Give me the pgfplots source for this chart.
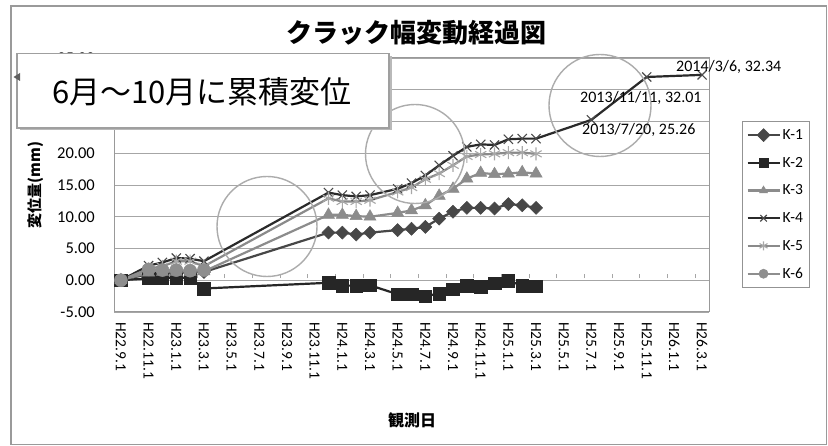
\documentclass[border=0pt]{standalone}
\usepackage{fontspec}
\usepackage{pgfplots}
\usepackage{pgfplotstable}
\pgfplotsset{compat=1.18}
\setmainfont{Carlito}
\newfontfamily\jp{Noto Sans CJK JP}
\definecolor{cK1}{HTML}{474747}
\definecolor{cK2}{HTML}{262626}
\definecolor{cK3}{HTML}{8C8C8C}
\definecolor{cK4}{HTML}{2A2A2A}
\definecolor{cK4m}{HTML}{4A4A4A}
\definecolor{cK5}{HTML}{8A8A8A}
\definecolor{cK5m}{HTML}{A8A8A8}
\definecolor{cK6}{HTML}{8E8E8E}
\definecolor{gridc}{HTML}{A6A6A6}
\definecolor{framec}{HTML}{9A9A9A}

\pgfplotstableread{
m v
0 0
2 1.0
3 1.1
4 1.2
5 1.2
6 1.3
15 7.5
16 7.5
17 7.2
18 7.5
20 7.9
21 8.1
22 8.4
23 9.7
24 10.8
25 11.4
26 11.4
27 11.3
28 12.0
29 11.8
30 11.4
}\Kone
\pgfplotstableread{
m v
0 0
2 0.3
3 0.3
4 0.4
5 0.4
6 -1.3
15 -0.4
16 -0.85
17 -0.85
18 -0.8
20 -2.2
21 -2.2
22 -2.5
23 -2.1
24 -1.4
25 -0.85
26 -1.0
27 -0.5
28 -0.05
29 -0.85
30 -0.95
}\Ktwo
\pgfplotstableread{
m v
0 0
2 1.2
3 1.3
4 1.3
5 1.3
6 1.4
15 10.3
16 10.3
17 10.1
18 10.0
20 10.6
21 11.0
22 11.8
23 13.3
24 14.4
25 16.0
26 16.9
27 16.7
28 16.8
29 17.0
30 16.8
}\Kthree
\pgfplotstableread{
m v
0 0
2 2.3
3 2.8
4 3.5
5 3.4
6 3.0
15 13.8
16 13.4
17 13.2
18 13.4
20 14.4
21 15.3
22 16.5
23 18.1
24 19.6
25 21.0
26 21.4
27 21.3
28 22.2
29 22.3
30 22.3
34 25.26
38 32.01
42 32.34
}\Kfour
\pgfplotstableread{
m v
0 0
2 1.8
3 2.2
4 3.0
5 3.0
6 2.2
15 12.9
16 12.4
17 12.4
18 12.6
20 13.9
21 14.6
22 15.9
23 16.8
24 18.1
25 19.5
26 19.8
27 19.9
28 20.1
29 20.1
30 19.9
}\Kfive
\pgfplotstableread{
m v
0 0
2 1.7
3 1.6
4 1.6
5 1.5
6 1.6
}\Ksix

\begin{document}
\begin{tikzpicture}[x=1bp,y=1bp]
\useasboundingbox (0,0) rectangle (828,446);
\fill[white] (0,0) rectangle (828,446);
\draw[framec, line width=1.3bp] (11,1.5) rectangle (826.5,440);

% x axis line at y = 0 with its tick marks
\begin{axis}[at={(114bp,134bp)}, anchor=south west, scale only axis,
  width=595bp, height=254bp, xmin=-0.5, xmax=42.5, ymin=-5, ymax=35,
  axis x line*=middle, axis y line=none,
  xtick={-0.5,1.5,...,41.5}, xticklabels={}, ytick=\empty,
  major tick length=4bp,
  xtick style={gridc, line width=0.9bp, yshift=2bp},
  axis line style={gridc!80, line width=1.1bp}]
\end{axis}

\begin{axis}[at={(114bp,134bp)}, anchor=south west, scale only axis,
  width=595bp, height=254bp, xmin=-0.5, xmax=42.5, ymin=-5, ymax=35,
  axis line style={gray!80, line width=1bp},
  ymajorgrids, major grid style={gridc, line width=0.9bp},
  xtick={0,2,...,42},
  xticklabels={H22.9.1,H22.11.1,H23.1.1,H23.3.1,H23.5.1,H23.7.1,H23.9.1,H23.11.1,H24.1.1,H24.3.1,H24.5.1,H24.7.1,H24.9.1,H24.11.1,H25.1.1,H25.3.1,H25.5.1,H25.7.1,H25.9.1,H25.11.1,H26.1.1,H26.3.1},
  ytick={-5,0,...,35},
  yticklabels={-5.00,0.00,5.00,10.00,15.00,20.00,{},{},35.00},
  xtick style={draw=none}, ytick style={draw=none},
  xticklabel style={rotate=-90, anchor=west, inner sep=0pt, font=\fontsize{15.5bp}{17bp}\selectfont},
  xticklabel shift=10bp,
  yticklabel style={anchor=east, inner sep=0pt, font=\fontsize{16.5bp}{18bp}\selectfont},
  yticklabel shift=19bp,
  legend style={at={(1.0555,0.752)}, anchor=north west, draw=gray!85, line width=0.8bp,
    fill=white, font=\fontsize{15.5bp}{17bp}\selectfont, row sep=12.2bp,
    inner xsep=4bp, inner ysep=6bp},
  legend cell align=left,
  legend image code/.code={\draw[mark repeat=2,mark phase=2,#1,mark size=4.6bp] plot coordinates {(0bp,0bp) (16bp,0bp) (32bp,0bp)};},
  clip=false]
\addplot[color=cK1, line width=2.2bp, mark=square*, mark size=4.6bp, mark options={rotate=45, fill=cK1, draw=cK1, line width=0.5bp}] table[x=m,y=v] {\Kone};
\addlegendentry{K-1}
\addplot[color=cK2, line width=2.2bp, mark=square*, mark size=6.3bp, mark options={fill=cK2, draw=cK2, line width=0.5bp}] table[x=m,y=v] {\Ktwo};
\addlegendentry{K-2}
\addplot[color=cK3, line width=2.2bp, mark=triangle*, mark size=7bp, mark options={fill=cK3, draw=cK3, line width=0.5bp}] table[x=m,y=v] {\Kthree};
\addlegendentry{K-3}
\addplot[color=cK4, line width=2.2bp, mark=x, mark size=6.5bp, mark options={draw=cK4m, line width=1.1bp}] table[x=m,y=v] {\Kfour};
\addlegendentry{K-4}
\addplot[color=cK5, line width=2.2bp, mark=asterisk, mark size=6.5bp, mark options={draw=cK5m, line width=1.1bp}] table[x=m,y=v] {\Kfive};
\addlegendentry{K-5}
\addplot[color=cK6, line width=2.2bp, mark=*, mark size=6.5bp, mark options={fill=cK6, draw=cK6, line width=0.5bp}] table[x=m,y=v] {\Ksix};
\addlegendentry{K-6}
\end{axis}

% annotation circles
\draw[gray!65, line width=1.4bp] (267,219.5) circle (50);
\draw[gray!65, line width=1.4bp] (415,292) circle (49.5);
\draw[gray!65, line width=1.4bp] (600,340.5) circle (51);

% data labels
\node[anchor=west, inner sep=0pt, font=\fontsize{16bp}{18bp}\selectfont] at (676,379) {2014/3/6, 32.34};
\node[anchor=west, inner sep=0pt, font=\fontsize{16bp}{18bp}\selectfont] at (580,348) {2013/11/11, 32.01};
\node[anchor=west, inner sep=0pt, font=\fontsize{16bp}{18bp}\selectfont] at (582,316) {2013/7/20, 25.26};

% text box
\fill[gray!55] (19.5,315.5) rectangle (391.5,390);
\draw[gray!75, line width=1.2bp, fill=white] (17,318) rectangle (389,392.5);
\node[inner sep=0pt, font=\jp\fontsize{31bp}{34bp}\selectfont] at (202,354) {6月～10月に累積変位};
\fill[gray!75!black] (13.5,369) -- (20,373) -- (20,365) -- cycle;

% titles
\node[font=\jp\bfseries\fontsize{26bp}{28bp}\selectfont] at (416,413) {クラック幅変動経過図};
\node[rotate=90, font=\jp\bfseries\fontsize{15bp}{17bp}\selectfont] at (36,261) {変位量(mm)};
\node[font=\jp\bfseries\fontsize{16bp}{18bp}\selectfont] at (412,26) {観測日};
\end{tikzpicture}
\end{document}
